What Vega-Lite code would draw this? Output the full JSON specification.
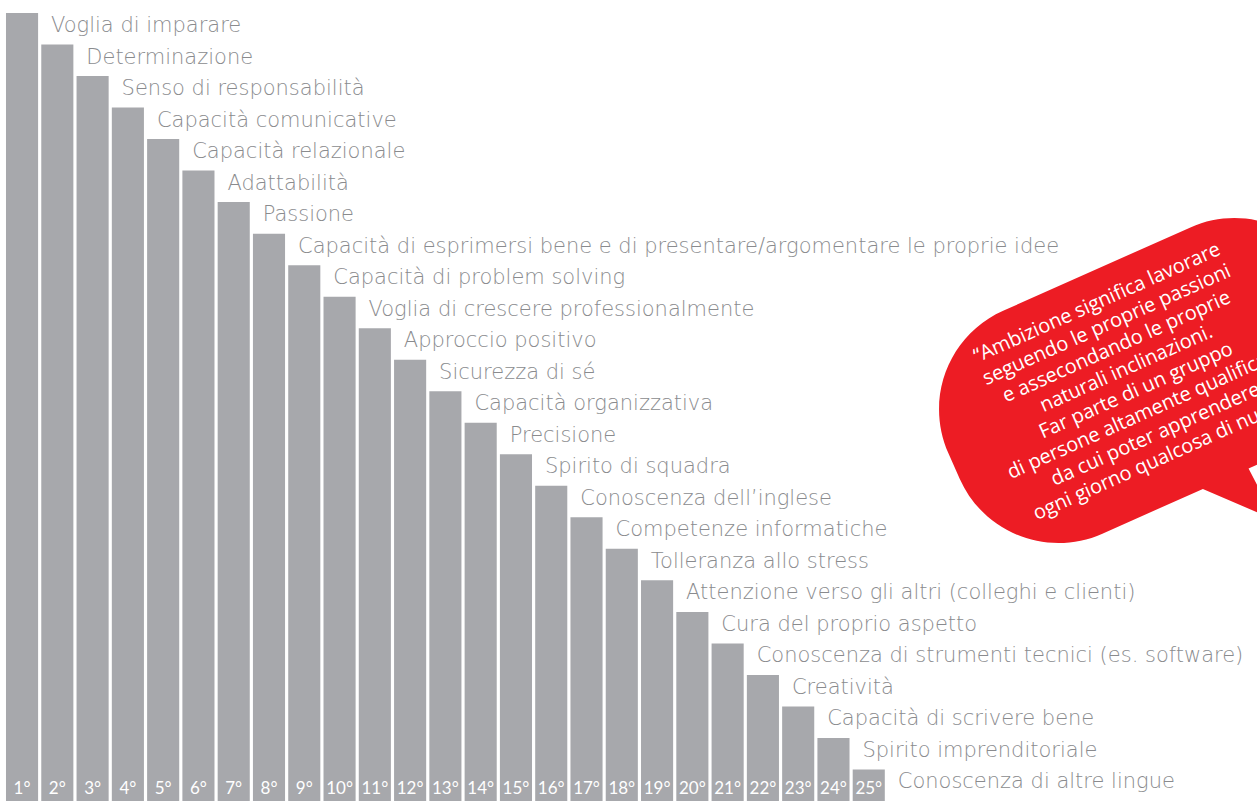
{
  "$schema": "https://vega.github.io/schema/vega-lite/v6.json",
  "width": 882,
  "height": 788,
  "autosize": {"type": "none"},
  "padding": {"left": 4.4, "top": 13, "right": 371, "bottom": 0},
  "background": "white",
  "config": {"view": {"stroke": null}},
  "datasets": {
    "ranks": [
      {"rank": 1, "label": "Voglia di imparare", "score": 25, "pos": "1°"},
      {"rank": 2, "label": "Determinazione", "score": 24, "pos": "2°"},
      {"rank": 3, "label": "Senso di responsabilità", "score": 23, "pos": "3°"},
      {"rank": 4, "label": "Capacità comunicative", "score": 22, "pos": "4°"},
      {"rank": 5, "label": "Capacità relazionale", "score": 21, "pos": "5°"},
      {"rank": 6, "label": "Adattabilità", "score": 20, "pos": "6°"},
      {"rank": 7, "label": "Passione", "score": 19, "pos": "7°"},
      {"rank": 8, "label": "Capacità di esprimersi bene e di presentare/argomentare le proprie idee", "score": 18, "pos": "8°"},
      {"rank": 9, "label": "Capacità di problem solving", "score": 17, "pos": "9°"},
      {"rank": 10, "label": "Voglia di crescere professionalmente", "score": 16, "pos": "10°"},
      {"rank": 11, "label": "Approccio positivo", "score": 15, "pos": "11°"},
      {"rank": 12, "label": "Sicurezza di sé", "score": 14, "pos": "12°"},
      {"rank": 13, "label": "Capacità organizzativa", "score": 13, "pos": "13°"},
      {"rank": 14, "label": "Precisione", "score": 12, "pos": "14°"},
      {"rank": 15, "label": "Spirito di squadra", "score": 11, "pos": "15°"},
      {"rank": 16, "label": "Conoscenza dell’inglese", "score": 10, "pos": "16°"},
      {"rank": 17, "label": "Competenze informatiche", "score": 9, "pos": "17°"},
      {"rank": 18, "label": "Tolleranza allo stress", "score": 8, "pos": "18°"},
      {"rank": 19, "label": "Attenzione verso gli altri (colleghi e clienti)", "score": 7, "pos": "19°"},
      {"rank": 20, "label": "Cura del proprio aspetto", "score": 6, "pos": "20°"},
      {"rank": 21, "label": "Conoscenza di strumenti tecnici (es. software)", "score": 5, "pos": "21°"},
      {"rank": 22, "label": "Creatività", "score": 4, "pos": "22°"},
      {"rank": 23, "label": "Capacità di scrivere bene", "score": 3, "pos": "23°"},
      {"rank": 24, "label": "Spirito imprenditoriale", "score": 2, "pos": "24°"},
      {"rank": 25, "label": "Conoscenza di altre lingue", "score": 1, "pos": "25°"}
    ],
    "note": [
      {"kind": "bubble", "px": 32.87, "sy": 13.34, "quote": ""},
      {"kind": "quote", "px": 31.47, "sy": 15.8, "quote": "“Ambizione significa lavorare|seguendo le proprie passioni|e assecondando le proprie|naturali inclinazioni.|Far parte di un gruppo|di persone altamente qualificate|da cui poter apprendere|ogni giorno qualcosa di nuovo”"}
    ]
  },
  "layer": [
    {
      "data": {"name": "ranks"},
      "encoding": {
        "x": {"field": "rank", "type": "ordinal", "axis": null, "scale": {"paddingInner": 0.09, "paddingOuter": 0.045}},
        "y": {"field": "score", "type": "quantitative", "axis": null, "scale": {"domain": [0, 25], "nice": false}}
      },
      "layer": [
        {"mark": {"type": "bar", "color": "#a7a8ac"}},
        {
          "mark": {"type": "text", "align": "left", "baseline": "alphabetic", "dx": 29, "dy": 19, "font": "DejaVu Sans", "fontWeight": 200, "fontSize": 21, "color": "#8a8b8e"},
          "encoding": {"text": {"field": "label", "type": "nominal"}}
        },
        {
          "mark": {"type": "text", "align": "center", "baseline": "alphabetic", "dy": -7, "font": "Lato", "fontWeight": 400, "fontSize": 17, "color": "white"},
          "encoding": {
            "y": {"datum": 0, "type": "quantitative"},
            "text": {"field": "pos", "type": "nominal"}
          }
        }
      ]
    },
    {
      "data": {"name": "note"},
      "encoding": {
        "x": {"field": "px", "type": "quantitative", "axis": null, "scale": {"domain": [0.5, 25.5], "nice": false, "zero": false}},
        "y": {"field": "sy", "type": "quantitative", "axis": null}
      },
      "layer": [
        {
          "transform": [{"filter": "datum.kind === 'bubble'"}],
          "mark": {"type": "point", "shape": "M-102.5,-122L102.5,-122A108,108,0,0,1,210.5,-14L210.5,14A108,108,0,0,1,102.5,122L57.5,122L61,180L7.5,122L-102.5,122A108,108,0,0,1,-210.5,14L-210.5,-14A108,108,0,0,1,-102.5,-122Z", "size": 4, "filled": true, "opacity": 1, "color": "#ed1c24", "strokeWidth": 0, "angle": -24}
        },
        {
          "transform": [{"filter": "datum.kind === 'quote'"}],
          "mark": {"type": "text", "align": "center", "baseline": "middle", "angle": -24, "lineBreak": "|", "lineHeight": 24, "font": "Open Sans", "fontSize": 20, "color": "white"},
          "encoding": {"text": {"field": "quote", "type": "nominal"}}
        }
      ]
    }
  ],
  "resolve": {"scale": {"x": "independent"}}
}
